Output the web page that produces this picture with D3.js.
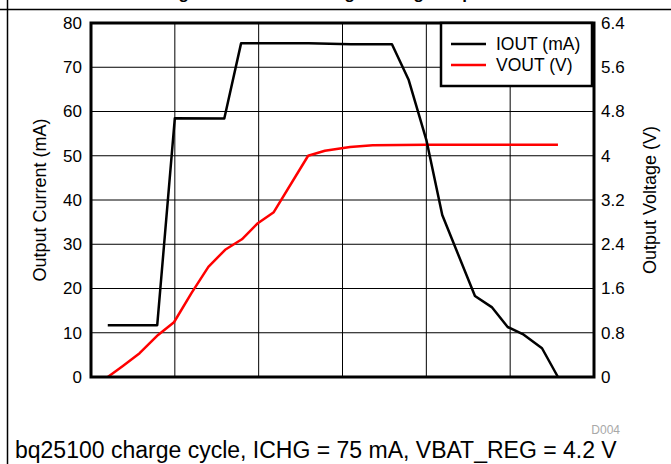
<!DOCTYPE html>
<html><head><meta charset="utf-8">
<script src="https://cdn.jsdelivr.net/npm/d3@7"></script>
<style>body{margin:0;background:#fff}svg{display:block;font-family:"Liberation Sans",Arial,sans-serif}</style>
</head><body><svg id="c" width="671" height="464"></svg>
<script>
// time positions (grid units) and values
const ioutX = [0.2, 0.79, 1.0, 1.59, 1.79, 2.6, 3.1, 3.59, 3.79, 4.0, 4.19, 4.58, 4.78, 4.97, 5.15, 5.38, 5.57];
const ioutY = [11.7, 11.7, 58.5, 58.4, 75.4, 75.4, 75.2, 75.2, 67.1, 53.6, 36.6, 18.3, 15.8, 11.3, 9.7, 6.5, 0];
const voutX = [0.2, 0.38, 0.58, 0.8, 0.99, 1.2, 1.4, 1.6, 1.8, 1.99, 2.18, 2.59, 2.79, 3.09, 3.36, 4.0, 5.57];
const voutY = [0.0, 0.2, 0.43, 0.76, 0.99, 1.52, 1.99, 2.3, 2.49, 2.78, 2.98, 4.0, 4.09, 4.16, 4.19, 4.2, 4.2];
const leftTicks = [0, 10, 20, 30, 40, 50, 60, 70, 80];
const rightTicks = [0, 0.8, 1.6, 2.4, 3.2, 4, 4.8, 5.6, 6.4];
const xGrid = [0, 1, 2, 3, 4, 5, 6];
const seriesNames = ["IOUT (mA)", "VOUT (V)"];
const seriesColors = ["#000000", "#ff0000"];

const svg = d3.select("#c");
const L = 91, R = 594, T = 23, B = 377;
const x = d3.scaleLinear().domain([0, 6]).range([L, R]);
const yL = d3.scaleLinear().domain([0, 80]).range([B, T]);
const yR = d3.scaleLinear().domain([0, 6.4]).range([B, T]);

// outer frame lines
svg.append("line").attr("x1", 0).attr("x2", 671).attr("y1", 9.5).attr("y2", 9.5).attr("stroke", "#000").attr("stroke-width", 1.5);
svg.append("line").attr("x1", 7.5).attr("x2", 7.5).attr("y1", 0).attr("y2", 464).attr("stroke", "#000").attr("stroke-width", 1.5);
// clipped title (only descenders visible, as in the reference)
svg.append("text").attr("x", 335).attr("y", -1).attr("text-anchor", "middle")
  .attr("font-size", 17).attr("font-weight", "bold")
  .text("Charge Current and Voltage During Temperature");

// grid
svg.append("g").selectAll("line").data(xGrid).join("line")
  .attr("x1", d => x(d)).attr("x2", d => x(d)).attr("y1", T).attr("y2", B)
  .attr("stroke", "#000").attr("stroke-width", 1);
svg.append("g").selectAll("line").data(leftTicks).join("line")
  .attr("x1", L).attr("x2", R).attr("y1", d => yL(d)).attr("y2", d => yL(d))
  .attr("stroke", "#000").attr("stroke-width", 1);

// axes labels via d3 axes
const axL = svg.append("g").attr("transform", `translate(${L},0)`)
  .call(d3.axisLeft(yL).tickValues(leftTicks).tickSize(0).tickPadding(9));
const axR = svg.append("g").attr("transform", `translate(${R},0)`)
  .call(d3.axisRight(yR).tickValues(rightTicks).tickSize(0).tickPadding(7).tickFormat(d3.format("")));
[axL, axR].forEach(a => {
  a.select(".domain").remove();
  a.selectAll("text").attr("font-size", 17).attr("font-family", "Liberation Sans, Arial, sans-serif").attr("fill", "#000");
});

// series
const line = (xs, ys, sc) => d3.line()(xs.map((v, i) => [x(v), sc(ys[i])]));
svg.append("path").attr("d", line(voutX, voutY, yR)).attr("fill", "none")
  .attr("stroke", seriesColors[1]).attr("stroke-width", 2.5).attr("stroke-linejoin", "round");
svg.append("path").attr("d", line(ioutX, ioutY, yL)).attr("fill", "none")
  .attr("stroke", seriesColors[0]).attr("stroke-width", 2.5).attr("stroke-linejoin", "round");

// plot frame
svg.append("rect").attr("x", L).attr("y", T).attr("width", R - L).attr("height", B - T)
  .attr("fill", "none").attr("stroke", "#000").attr("stroke-width", 3);

// legend
const lg = svg.append("g");
lg.append("rect").attr("x", 441).attr("y", 23).attr("width", 151).attr("height", 63)
  .attr("fill", "#fff").attr("stroke", "#000").attr("stroke-width", 2.5);
seriesNames.forEach((n, i) => {
  const yy = 44 + i * 21;
  lg.append("line").attr("x1", 451).attr("x2", 486).attr("y1", yy).attr("y2", yy)
    .attr("stroke", seriesColors[i]).attr("stroke-width", 2.5);
  lg.append("text").attr("x", 496).attr("y", yy).attr("dy", "0.35em").attr("font-size", 17.5).text(n);
});

// axis titles
svg.append("text").attr("transform", "translate(46,200) rotate(-90)").attr("text-anchor", "middle")
  .attr("font-size", 18).text("Output Current (mA)");
svg.append("text").attr("transform", "translate(656,200) rotate(-90)").attr("text-anchor", "middle")
  .attr("font-size", 18).text("Output Voltage (V)");

// footer
svg.append("text").attr("x", 620).attr("y", 434).attr("text-anchor", "end").attr("font-size", 12)
  .attr("fill", "#a8a8a8").text("D004");
svg.append("text").attr("x", 15).attr("y", 458).attr("font-size", 23).text("bq25100 charge cycle, ICHG = 75 mA, VBAT_REG = 4.2 V");
</script></body></html>
